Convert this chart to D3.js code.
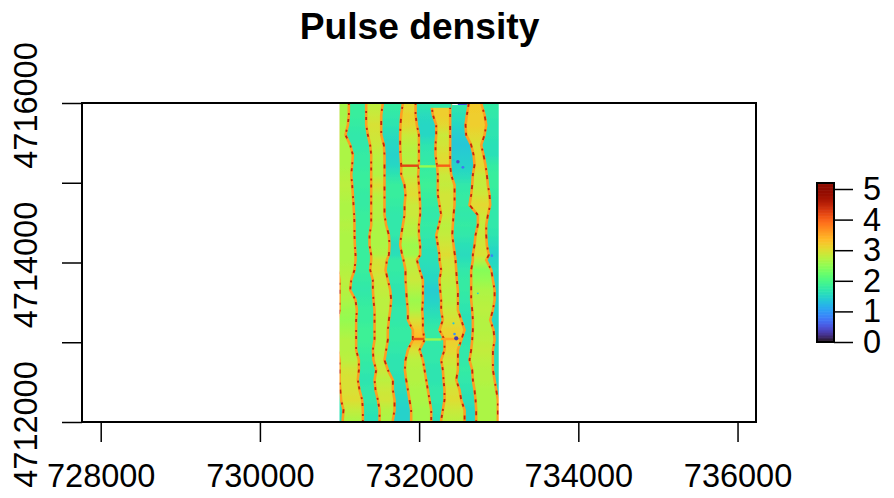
<!DOCTYPE html>
<html><head><meta charset="utf-8">
<script src="https://cdn.jsdelivr.net/npm/d3@7"></script>
<style>html,body{margin:0;padding:0;background:#fff}svg{display:block}text{font-family:"Liberation Sans",Arial,sans-serif;fill:#000}</style>
</head><body><svg id="c" width="894" height="498"></svg>
<script>
const title = "Pulse density";
const xTicks = [728000,730000,732000,734000,736000];
const yTicks = [4712000,4713000,4714000,4715000,4716000];
const yLabelled = [4712000,4714000,4716000];
const legendTicks = [0,1,2,3,4,5];
const rasterEast = [731000,733000];
const rasterNorth = [4712000,4716000];
const northing = [4716000,4715850,4715725,4715600,4715474,4715349,4715223,4715098,4714972,4714847,4714721,4714596,4714470,4714345,4714219,4714094,4714031,4713906,4713781,4713655,4713530,4713404,4713279,4713154,4713028,4712903,4712777,4712652,4712527,4712401,4712276,4712150,4712025,4712000];
// strip edges, metres east of the raster's west side
const aLeft = [-20,-20,-20,-20,-20,-20,-20,-20,-20,-20,-20,-20,-20,-20,-20,-20,-20,-20,0,0,0,0,-20,-20,-20,-20,0,0,0,10,20,50,40,40];
const aRight = [117,117,105,75,134,168,159,147,159,168,176,184,188,188,193,201,201,188,147,134,201,218,209,209,209,209,243,243,230,251,285,293,293,293];
const bLeft = [335,335,335,356,385,398,398,398,398,398,398,398,398,377,377,398,398,385,419,419,427,440,440,440,440,419,427,461,440,452,482,503,503,503];
const bRight = [544,524,524,524,557,565,565,565,565,565,565,565,586,620,628,620,595,578,607,637,649,637,620,607,607,586,565,607,670,670,691,691,670,670];
const cLeft = [796,775,766,762,762,766,775,775,817,829,817,817,796,775,762,787,804,829,829,838,846,859,859,921,921,859,829,821,838,859,879,900,900,900];
const cRight = [955,955,972,997,997,997,997,988,997,1005,1013,1013,997,997,1013,1013,972,1005,1047,1047,1047,1039,1047,1047,1068,1005,1047,1068,1089,1110,1131,1152,1152,1152];
const dLeft = [1152,1173,1215,1215,1206,1206,1223,1235,1235,1235,1256,1277,1248,1215,1235,1256,1256,1277,1256,1265,1277,1277,1298,1256,1319,1319,1277,1298,1307,1319,1319,1298,1277,1277];
const dRight = [1390,1390,1390,1390,1390,1390,1390,1403,1445,1445,1445,1432,1424,1416,1432,1449,1457,1466,1474,1487,1487,1487,1529,1571,1529,1487,1487,1487,1466,1508,1529,1571,1571,1571];
const eLeft = [1625,1600,1583,1591,1654,1684,1696,1675,1667,1654,1633,1738,1738,1709,1696,1675,1675,1654,1654,1654,1654,1667,1675,1675,1667,1654,1633,1667,1675,1696,1709,1717,1717,1717];
const eRight = [1780,1822,1843,1822,1780,1809,1834,1851,1864,1885,1893,1864,1843,1843,1851,1876,1843,1906,1927,1948,1948,1927,1893,1935,1948,1927,1927,1927,1948,1969,1989,1989,1989,1989];
// pulse density along each strip
const aDensity = [2.6,2.6,2.65,2.7,2.65,2.65,2.65,2.7,2.75,2.7,2.65,2.65,2.7,2.65,2.65,2.65,2.65,2.7,2.75,2.7,2.65,2.55,2.5,2.6,2.7,2.7,2.75,2.9,2.95,2.95,3.0,2.8,2.65,2.65];
const bDensity = [2.75,2.85,2.95,2.9,2.85,2.75,2.7,2.7,2.95,2.75,2.7,2.7,2.65,2.65,2.65,2.7,2.9,2.95,2.85,2.8,2.75,2.75,2.7,2.7,2.7,2.7,2.8,2.85,2.75,2.85,2.9,2.7,2.65,2.65];
const cDensity = [2.95,3.1,3.05,2.85,2.75,2.7,2.75,2.8,2.95,3.0,2.85,2.85,2.75,2.7,2.55,2.6,2.8,2.8,2.85,2.7,2.55,2.65,2.95,3.2,3.35,2.95,2.75,2.7,2.7,2.65,2.65,2.6,2.6,2.6];
const dDensity = [3.15,3.15,3.05,2.85,2.9,3.0,3.05,2.85,2.8,2.9,2.9,2.85,2.75,2.8,2.9,3.0,2.9,2.85,2.8,2.75,2.75,2.85,2.95,3.1,3.15,3.05,2.9,2.8,2.8,2.95,3.0,2.85,2.75,2.75];
const eDensity = [3.2,3.15,3.15,3.05,2.95,3.0,3.05,2.85,2.8,2.9,3.05,2.9,2.8,2.85,2.9,2.95,2.75,2.4,2.5,2.65,2.7,2.75,2.7,2.7,2.75,2.8,2.75,2.7,2.7,2.65,2.65,2.65,2.65,2.65];
const gapADensity = [1.8,1.8,1.75,1.7,1.7,1.75,1.75,1.8,1.8,1.75,1.75,1.8,1.8,1.8,1.8,1.8,1.8,1.8,1.75,1.7,1.75,1.8,1.8,1.85,1.85,1.8,1.75,1.7,1.65,1.7,1.7,1.65,1.6,1.6];
const gapBDensity = [1.8,1.7,1.65,1.55,1.5,1.45,1.5,1.65,1.8,1.8,1.75,1.7,1.7,1.7,1.55,1.6,1.75,1.75,1.7,1.65,1.65,1.7,1.7,1.75,1.75,1.7,1.65,1.65,1.6,1.55,1.5,1.45,1.45,1.45];
const gapCDensity = [1.7,1.55,1.5,1.5,1.65,1.7,1.75,1.8,1.85,1.8,1.75,1.7,1.75,1.7,1.65,1.6,1.6,1.55,1.5,1.4,1.45,1.55,1.65,1.75,1.75,1.7,1.7,1.65,1.65,1.7,1.7,1.65,1.6,1.6];
const gapDDensity = [1.7,1.6,1.5,1.4,1.35,1.4,1.45,1.55,1.7,1.75,1.75,1.7,1.75,1.7,1.6,1.55,1.6,1.7,1.75,1.75,1.7,1.65,1.6,1.6,1.65,1.7,1.7,1.75,1.7,1.65,1.6,1.5,1.5,1.5];
const gapEDensity = [1.75,1.7,1.65,1.65,1.6,1.6,1.75,1.8,1.8,1.75,1.7,1.7,1.7,1.65,1.55,1.45,1.5,1.55,1.5,1.5,1.5,1.5,1.5,1.5,1.5,1.55,1.55,1.6,1.5,1.5,1.45,1.45,1.45,1.45];
// thin flight-line crossings: east-from, east-to, northing, density
const crossE0 = [775,997,1215,921,1068,1277];
const crossE1 = [997,1215,1390,1068,1277,1540];
const crossN = [4715214,4715205,4715214,4713041,4713035,4713041];
const crossV = [4.2,2.5,4.0,4.1,2.55,3.5];
// low-density spots
const spotE = [732487,732550,732432,732654,732914,732466,732445,732432,732738,732499];
const spotN = [4715264,4715193,4715285,4715118,4714086,4713049,4713103,4713237,4713613,4712965];
const spotV = [0.4,0.7,1.2,1.2,0.8,0.3,0.9,1.3,1.4,1.8];
const spotR = [22,18,10,10,16,26,16,14,12,12];

const svg = d3.select("#c");
const x = d3.scaleLinear().domain([727765,736232]).range([82,756]);
const y = d3.scaleLinear().domain([4712000,4716000]).range([422,103]);
const col = d3.scaleSequential(d3.interpolateTurbo).domain([0,5]);
const east = v => x(rasterEast[0]+v);
const defs = svg.append("defs");
defs.append("clipPath").attr("id","rc").append("rect")
  .attr("x",x(rasterEast[0])).attr("y",y(rasterNorth[1]))
  .attr("width",x(rasterEast[1])-x(rasterEast[0])).attr("height",y(rasterNorth[0])-y(rasterNorth[1]));
defs.append("filter").attr("id","soft").attr("x","-5%").attr("y","-5%").attr("width","110%").attr("height","110%")
  .attr("filterUnits","objectBoundingBox")
  .append("feGaussianBlur").attr("stdDeviation",0.6);
function gradient(id,vals){
  const g = defs.append("linearGradient").attr("id",id).attr("gradientUnits","userSpaceOnUse")
    .attr("x1",0).attr("x2",0).attr("y1",y(northing[0])).attr("y2",y(northing[northing.length-1]));
  vals.forEach((v,i)=>g.append("stop")
    .attr("offset",(y(northing[i])-y(northing[0]))/(y(northing[northing.length-1])-y(northing[0])))
    .attr("stop-color",col(v)));
  return `url(#${id})`;
}
const area = (l,r)=>d3.area().y((d,i)=>y(northing[i])).x0((d,i)=>east(l[i])).x1((d,i)=>east(r[i]))(northing);
const line = e=>d3.line().y((d,i)=>y(northing[i])).x((d,i)=>east(e[i]))(northing);

const clip = svg.append("g").attr("clip-path","url(#rc)");
const r = clip.append("g").attr("filter","url(#soft)");
r.append("rect").attr("x",x(rasterEast[0])-6).attr("y",y(rasterNorth[1])-6)
  .attr("width",x(rasterEast[1])-x(rasterEast[0])+12).attr("height",y(rasterNorth[0])-y(rasterNorth[1])+12)
  .attr("fill",col(1.7));
const farEast = northing.map(()=>2030), farWest = northing.map(()=>-30);
[[farWest,aLeft,gapADensity],[aRight,bLeft,gapADensity],[bRight,cLeft,gapBDensity],[cRight,dLeft,gapCDensity],[dRight,eLeft,gapDDensity],[eRight,farEast,gapEDensity]]
 .forEach((g,i)=>r.append("path").attr("d",area(g[0],g[1])).attr("fill",gradient("gap"+i,g[2])));
const strips = [[aLeft,aRight,aDensity],[bLeft,bRight,bDensity],[cLeft,cRight,cDensity],[dLeft,dRight,dDensity],[eLeft,eRight,eDensity]];
strips.forEach((s,i)=>{
  r.append("path").attr("d",area(s[0],s[1])).attr("fill",gradient("strip"+i,s[2]));
});
const dashes = ["2 5 4 9","3 8 2 4","4 6 2 10","2 4 3 7","3 9 4 5"];
strips.forEach((s,i)=>{
  [s[0],s[1]].forEach((e,j)=>{
    r.append("path").attr("d",line(e)).attr("fill","none").attr("stroke",col(3.55)).attr("stroke-width",2.6);
    r.append("path").attr("d",line(e)).attr("fill","none").attr("stroke",col(4.45)).attr("stroke-width",1.8)
      .attr("stroke-dasharray",dashes[(i+j)%5]).attr("stroke-dashoffset",i*3+j);
  });
});
crossV.forEach((v,i)=>r.append("line").attr("x1",east(crossE0[i])).attr("x2",east(crossE1[i]))
  .attr("y1",y(crossN[i])).attr("y2",y(crossN[i])).attr("stroke",col(v)).attr("stroke-width",2.4));
spotV.forEach((v,i)=>r.append("circle").attr("cx",x(spotE[i])).attr("cy",y(spotN[i]))
  .attr("r",Math.abs(x(spotE[i]+spotR[i])-x(spotE[i]))).attr("fill",col(v)));
// gap at the top edge of the raster
const topCells = [[1416,1487,null],[1487,1600,0.5]];
const topDepth = 4715975;
clip.append("rect").attr("x",east(1130)).attr("width",east(1400)-east(1130)).attr("y",y(rasterNorth[1])).attr("height",y(4715940)-y(rasterNorth[1])).attr("fill",col(1.7)).attr("filter","url(#soft)");
topCells.forEach(c=>clip.append("rect").attr("x",east(c[0])).attr("width",east(c[1])-east(c[0]))
  .attr("y",y(rasterNorth[1])).attr("height",y(topDepth)-y(rasterNorth[1])).attr("fill",c[2]===null?"#fff":col(c[2])));

const axStyle = g=>{g.selectAll(".domain").remove();
  g.selectAll("line").attr("stroke","#000").attr("stroke-width",1.5);
  g.selectAll("text").attr("font-size",32.5).attr("font-family",'"Liberation Sans",Arial,sans-serif').attr("fill","#000");};
svg.append("g").attr("transform","translate(0,422)")
  .call(d3.axisBottom(x).tickValues(xTicks).tickSize(20).tickPadding(22).tickFormat(d3.format("d"))).call(axStyle);
const ya = svg.append("g").attr("transform","translate(82,0)")
  .call(d3.axisLeft(y).tickValues(yTicks).tickSize(20).tickFormat(d=>yLabelled.includes(d)?d3.format("d")(d):"")).call(axStyle);
ya.selectAll("text").attr("transform","rotate(-90)").attr("text-anchor","middle").attr("dy",0).attr("x",-2).attr("y",-45);
svg.append("rect").attr("x",82).attr("y",103).attr("width",674).attr("height",319).attr("fill","none").attr("stroke","#000").attr("stroke-width",2);
svg.append("text").attr("x",419.5).attr("y",39).attr("text-anchor","middle").attr("font-size",37.2).attr("font-weight","bold").text(title);

// legend
const ly = d3.scaleLinear().domain([0,5]).range([342,189]);
const levels = d3.range(0,5.2,0.05);
svg.append("g").selectAll("rect").data(levels).join("rect")
  .attr("x",817).attr("width",17).attr("y",d=>ly(d+0.05)-0.3).attr("height",ly(0)-ly(0.05)+0.6)
  .attr("fill",d=>col(Math.min(d,5)));
svg.append("rect").attr("x",817).attr("y",183).attr("width",17).attr("height",159).attr("fill","none").attr("stroke","#000").attr("stroke-width",2);
const la = svg.append("g").attr("transform","translate(834,0)")
  .call(d3.axisRight(ly).tickValues(legendTicks).tickSize(19).tickPadding(10).tickFormat(d3.format("d"))).call(axStyle);
</script></body></html>
